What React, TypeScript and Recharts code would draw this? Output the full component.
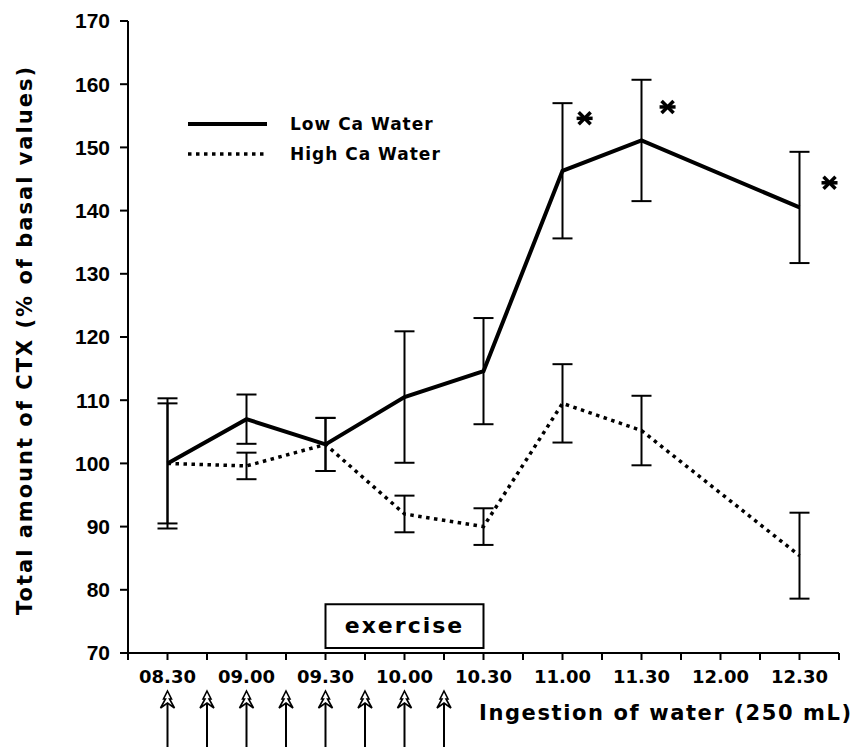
import React from 'react';
import {
  ComposedChart,
  Line,
  ErrorBar,
  XAxis,
  YAxis,
  ReferenceArea,
  ReferenceDot,
} from 'recharts';

// time labels on the x axis (one slot per half hour)
const timeLabels = ['08.30', '09.00', '09.30', '10.00', '10.30', '11.00', '11.30', '12.00', '12.30'];
// times at which CTX was measured (no sample at 12.00)
const sampleTimes = ['08.30', '09.00', '09.30', '10.00', '10.30', '11.00', '11.30', '12.30'];

const lowCa = [100, 107, 103, 110.5, 114.6, 146.3, 151.1, 140.5];
const lowCaErr = [10.3, 3.9, 4.2, 10.4, 8.4, 10.7, 9.6, 8.8];
const highCa = [100, 99.6, 103, 92, 90, 109.5, 105.2, 85.4];
const highCaErr = [9.5, 2.1, 4.2, 2.9, 2.9, 6.2, 5.5, 6.8];

const seriesNames = ['Low Ca Water', 'High Ca Water'];
const yTicks = [70, 80, 90, 100, 110, 120, 130, 140, 150, 160, 170];
const xTicks = [-0.5, 0, 0.5, 1, 1.5, 2, 2.5, 3, 3.5, 4, 4.5, 5, 5.5, 6, 6.5, 7, 7.5, 8, 8.5];
// water ingestion every 15 min from 08.30 to 10.15
const ingestionTicks = [0, 0.5, 1, 1.5, 2, 2.5, 3, 3.5];
// exercise period 09.30 - 10.30
const exercise = { from: '09.30', to: '10.30', label: 'exercise' };
// significance asterisks (x in time slots, y in %)
const stars = [
  { x: 5.28, y: 154.6 },
  { x: 6.33, y: 156.4 },
  { x: 8.38, y: 144.4 },
];

const data = sampleTimes.map((t, i) => ({
  x: timeLabels.indexOf(t),
  low: lowCa[i],
  lowErr: lowCaErr[i],
  high: highCa[i],
  highErr: highCaErr[i],
}));

const boldFont = '"DejaVu Sans", sans-serif';

const XTick = (props: any) => {
  const { x, y, payload } = props;
  const v = payload.value;
  const label = Number.isInteger(v) ? timeLabels[v] : null;
  const arrow = ingestionTicks.includes(v);
  // y is the top of the tick label (axis + 17)
  const t = y + 21;
  return (
    <g>
      {label && (
        <text
          x={x}
          y={y}
          dy="0.71em"
          textAnchor="middle"
          fontFamily={boldFont}
          fontWeight="bold"
          fontSize={18}
          fill="#000"
        >
          {label}
        </text>
      )}
      {arrow && (
        <g stroke="#000">
          <line x1={x} y1={t + 12} x2={x} y2={y + 80} strokeWidth={2} />
          <path
            d={`M${x} ${t} L${x + 4} ${t + 8} L${x + 2} ${t + 8} L${x + 7} ${t + 17} L${x} ${t + 12} L${x - 7} ${t + 17} L${x - 2} ${t + 8} L${x - 4} ${t + 8} Z`}
            fill="#fff"
            strokeWidth={1.6}
            strokeLinejoin="miter"
          />
        </g>
      )}
    </g>
  );
};

const Asterisk = (props: any) => {
  const { cx, cy } = props;
  return (
    <g stroke="#000" strokeWidth={3.5}>
      <line x1={cx - 8} y1={cy} x2={cx + 8} y2={cy} />
      <line x1={cx - 6} y1={cy - 6} x2={cx + 6} y2={cy + 6} />
      <line x1={cx - 6} y1={cy + 6} x2={cx + 6} y2={cy - 6} />
    </g>
  );
};

const ExerciseLabel = (props: any) => {
  const { x, y, width, height } = props.viewBox;
  return (
    <text
      x={x + width / 2}
      y={y + height / 2 + 7}
      textAnchor="middle"
      fontFamily={boldFont}
      fontWeight="bold"
      fontSize={22}
      letterSpacing={2}
      fill="#000"
    >
      {exercise.label}
    </text>
  );
};

const YTitle = (props: any) => {
  const { x, y, height } = props.viewBox;
  const cx = x + 25;
  const cy = y + height / 2 + 3;
  return (
    <text
      x={cx}
      y={cy}
      transform={`rotate(-90, ${cx}, ${cy})`}
      textAnchor="middle"
      dominantBaseline="central"
      fontFamily={boldFont}
      fontWeight="bold"
      fontSize={21}
      letterSpacing={2}
      fill="#000"
    >
      Total amount of CTX (% of basal values)
    </text>
  );
};

const XTitle = (props: any) => {
  const { x, y } = props.viewBox;
  return (
    <text
      x={x + 351}
      y={y + 67}
      fontFamily={boldFont}
      fontWeight="bold"
      fontSize={21}
      letterSpacing={1.6}
      fill="#000"
    >
      Ingestion of water (250 mL)
    </text>
  );
};

const legendRow = (name: string, dotted: boolean) => (
  <div key={name} style={{ display: 'flex', alignItems: 'center', height: 30 }}>
    <svg width={79} height={8}>
      <line
        x1={0}
        y1={4}
        x2={79}
        y2={4}
        stroke="#000"
        strokeWidth={dotted ? 3.5 : 4}
        strokeDasharray={dotted ? '3.5 4.5' : undefined}
      />
    </svg>
    <span
      style={{
        marginLeft: 23,
        fontFamily: boldFont,
        fontWeight: 'bold',
        fontSize: 17,
        letterSpacing: 1,
      }}
    >
      {name}
    </span>
  </div>
);

export default function App() {
  const axisStyle = { stroke: '#000', strokeWidth: 2 };
  return (
    <div style={{ position: 'absolute', left: 0, top: 0, width: 867, height: 747, background: '#fff' }}>
      <ComposedChart
        width={867}
        height={747}
        data={data}
        margin={{ top: 21, right: 28, bottom: 0, left: 0 }}
      >
        <XAxis
          type="number"
          dataKey="x"
          domain={[-0.5, 8.5]}
          ticks={xTicks}
          interval={0}
          allowDecimals
          height={94}
          axisLine={axisStyle}
          tickLine={axisStyle}
          tickSize={7}
          tickMargin={10}
          tick={<XTick />}
          label={<XTitle />}
        />
        <YAxis
          type="number"
          domain={[70, 170]}
          ticks={yTicks}
          interval={0}
          width={128}
          axisLine={axisStyle}
          tickLine={axisStyle}
          tickSize={8}
          tickMargin={10}
          tick={{ fontFamily: '"Liberation Sans", Arial, sans-serif', fontWeight: 'bold', fontSize: 21, fill: '#000' }}
          label={<YTitle />}
        />
        <ReferenceArea
          x1={timeLabels.indexOf(exercise.from)}
          x2={timeLabels.indexOf(exercise.to)}
          y1={70.8}
          y2={77.7}
          fill="#fff"
          fillOpacity={1}
          stroke="#000"
          strokeWidth={2}
          label={<ExerciseLabel />}
        />
        <Line
          dataKey="high"
          name={seriesNames[1]}
          stroke="#000"
          strokeWidth={3.5}
          strokeDasharray="3.5 4.5"
          dot={false}
          isAnimationActive={false}
        >
          <ErrorBar dataKey="highErr" width={10} strokeWidth={2} stroke="#000" direction="y" />
        </Line>
        <Line
          dataKey="low"
          name={seriesNames[0]}
          stroke="#000"
          strokeWidth={4}
          dot={false}
          isAnimationActive={false}
        >
          <ErrorBar dataKey="lowErr" width={10} strokeWidth={2} stroke="#000" direction="y" />
        </Line>
        {stars.map((s, i) => (
          <ReferenceDot key={i} x={s.x} y={s.y} r={8} shape={<Asterisk />} />
        ))}
      </ComposedChart>
      <div style={{ position: 'absolute', left: 188, top: 109 }}>
        {legendRow(seriesNames[0], false)}
        {legendRow(seriesNames[1], true)}
      </div>
    </div>
  );
}
